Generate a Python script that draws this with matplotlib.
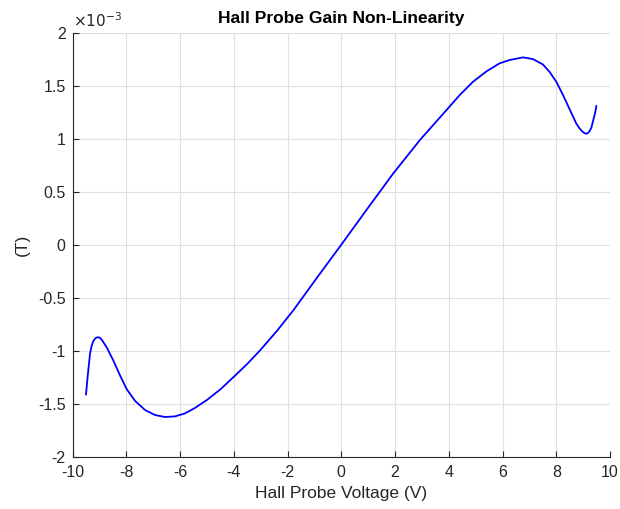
import matplotlib
matplotlib.use("Agg")
import matplotlib.pyplot as plt

# values (x in V, y in units of 1e-3 T)
volts = [-9.50, -9.44, -9.35, -9.29, -9.23, -9.15, -9.06, -8.98, -8.91, -8.73, -8.48,
         -8.23, -7.99, -7.68, -7.30, -6.93, -6.56, -6.19, -5.82, -5.45, -5.0, -4.5,
         -4.02, -3.5, -3.03, -2.4, -1.79, -0.9, 0.0, 1.0, 1.93, 2.92, 3.91, 4.4,
         4.9, 5.4, 5.89, 6.26, 6.76, 7.13, 7.50, 7.75, 8.0, 8.25, 8.49, 8.62, 8.74,
         8.87, 8.99, 9.07, 9.14, 9.22, 9.30, 9.39, 9.45, 9.49]
field = [-1.415, -1.251, -1.03, -0.955, -0.911, -0.882, -0.873, -0.878, -0.898, -0.968, -1.094,
         -1.235, -1.361, -1.472, -1.56, -1.607, -1.626, -1.62, -1.592, -1.541, -1.465, -1.365,
         -1.251, -1.125, -0.999, -0.815, -0.621, -0.31, 0.0, 0.35, 0.671, 0.986, 1.269, 1.41,
         1.537, 1.635, 1.711, 1.742, 1.767, 1.751, 1.70, 1.63, 1.537, 1.411, 1.28, 1.21, 1.144,
         1.095, 1.062, 1.05, 1.047, 1.065, 1.10, 1.19, 1.25, 1.31]

plt.rcParams['font.family'] = ['Liberation Sans', 'DejaVu Sans']
dark = '#262626'

fig = plt.figure(figsize=(6.2, 5.09), dpi=100)
ax = fig.add_axes([0.117, 0.1028, 0.867, 0.833])

ax.plot(volts, [v * 1e-3 for v in field], color='#0000ff', lw=1.3,
        solid_joinstyle='round', solid_capstyle='round')

ax.set_xlim(-10, 10)
ax.set_ylim(-2e-3, 2e-3)
ax.set_xticks(range(-10, 11, 2))
ax.set_yticks([v * 1e-3 for v in [-2, -1.5, -1, -0.5, 0, 0.5, 1, 1.5, 2]])
ax.set_yticklabels(['-2', '-1.5', '-1', '-0.5', '0', '0.5', '1', '1.5', '2'])
ax.set_xticklabels([str(t) for t in range(-10, 11, 2)])
ax.text(0.0, 1.006, r'$\times10^{-3}$', transform=ax.transAxes, fontsize=11,
        color=dark, ha='left', va='bottom')

ax.grid(True, color='#e0e0e0', lw=0.8)
ax.set_axisbelow(True)
for s in ['top', 'right']:
    ax.spines[s].set_visible(False)
for s in ['left', 'bottom']:
    ax.spines[s].set_color(dark)
    ax.spines[s].set_linewidth(0.8)
ax.tick_params(direction='in', length=4.5, colors=dark, labelsize=11.5, width=0.8)
ax.tick_params(axis='x', pad=6)
ax.tick_params(axis='y', pad=5)

ax.set_title('Hall Probe Gain Non-Linearity', fontsize=12.5, fontweight='bold', pad=7)
ax.set_xlabel('Hall Probe Voltage (V)', fontsize=12.5, color=dark, labelpad=4)
ax.set_ylabel('(T)', fontsize=12.5, color=dark, labelpad=6)

fig.savefig('out.png', dpi=100)
